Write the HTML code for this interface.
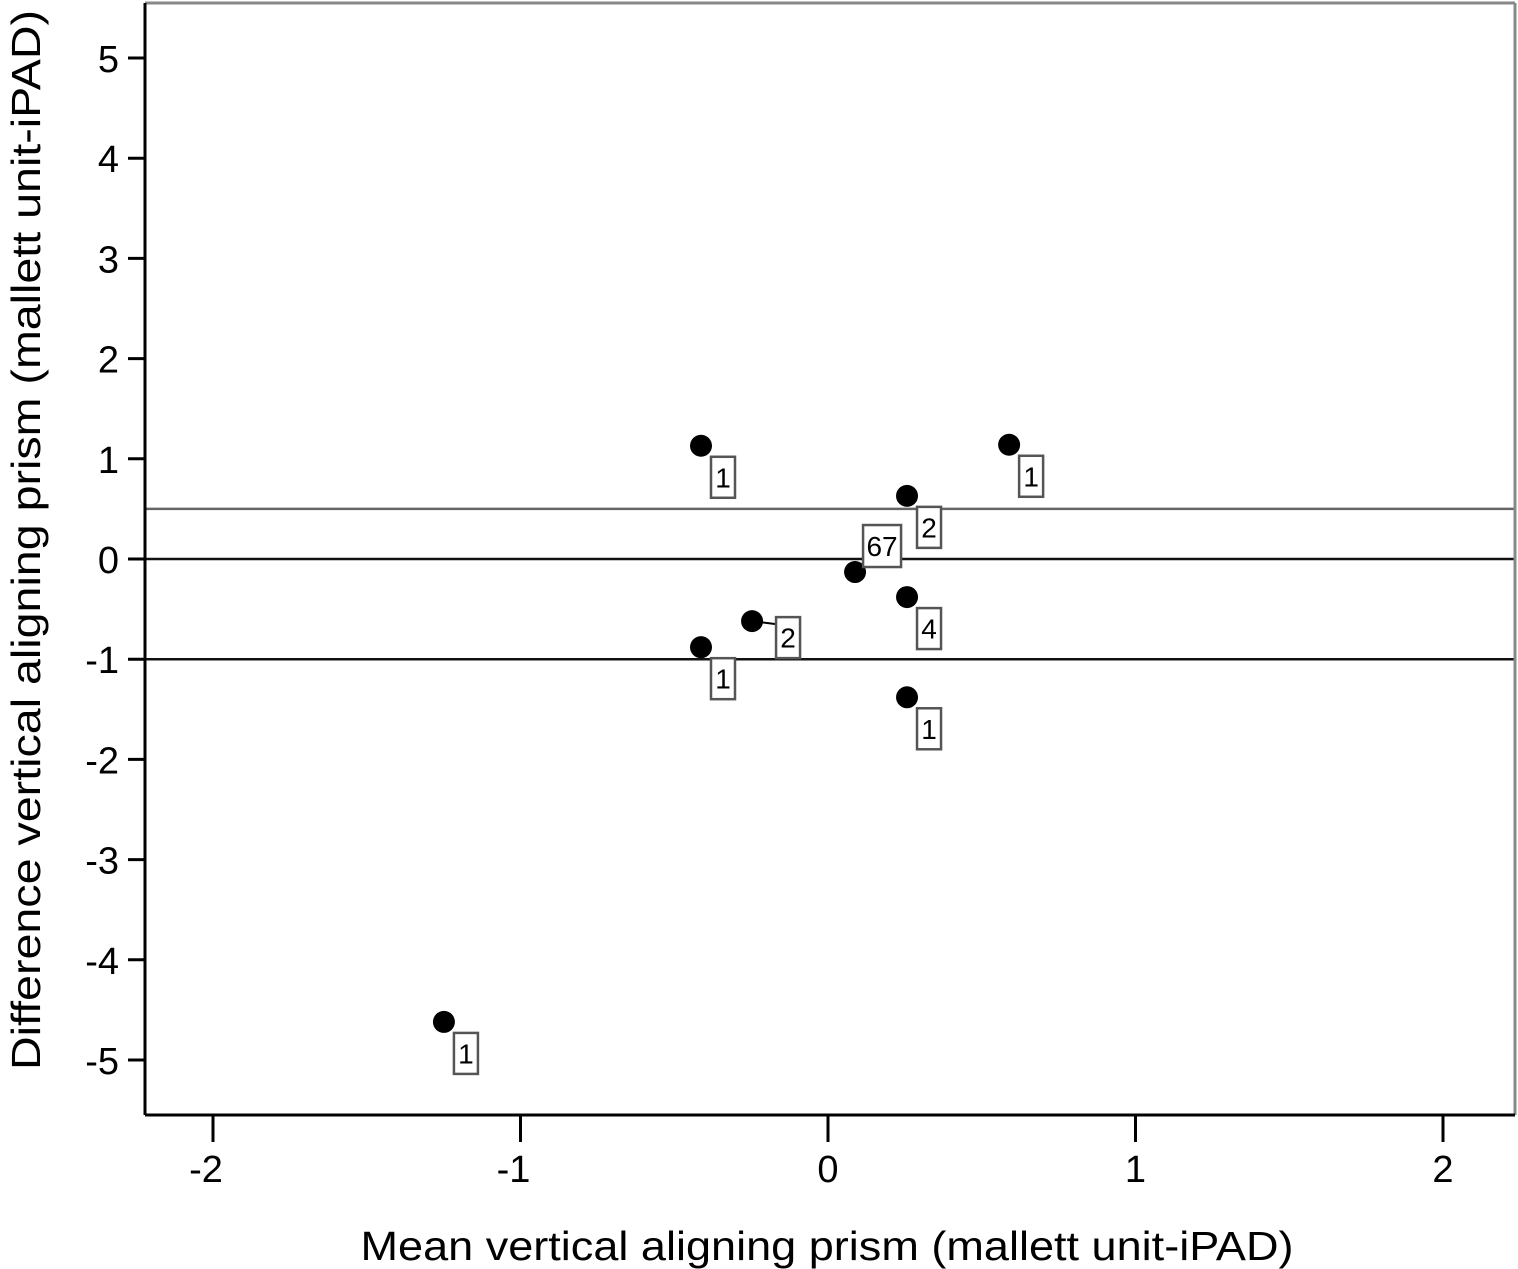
<!DOCTYPE html>
<html><head><meta charset="utf-8"><style>
html,body{margin:0;padding:0;background:#fff;}
svg{display:block;font-family:"Liberation Sans",Arial,sans-serif;}
</style></head><body>
<svg id="chart" width="1518" height="1269" viewBox="0 0 1518 1269">
<rect x="0" y="0" width="1518" height="1269" fill="#fff"/>
<g id="grid"></g>
<g id="axes"></g>
<g id="marks"></g>
<text x="827" y="1260" font-size="41" text-anchor="middle" textLength="933" lengthAdjust="spacingAndGlyphs">Mean vertical aligning prism (mallett unit-iPAD)</text>
<text transform="translate(40,540) rotate(-90)" font-size="41" text-anchor="middle" textLength="1060" lengthAdjust="spacingAndGlyphs">Difference vertical aligning prism (mallett unit-iPAD)</text>
</svg>
<script>
const xTicks=[-2,-1,0,1,2];
const yTicks=[5,4,3,2,1,0,-1,-2,-3,-4,-5];
const meanVals=[-0.413,0.589,0.257,0.088,0.257,-0.247,-0.413,0.257,-1.249];
const diffVals=[1.13,1.14,0.63,-0.13,-0.38,-0.62,-0.88,-1.38,-4.62];
const counts=["1","1","2","67","4","2","1","1","1"];
const refLines=[0.5,0,-1];
const NS="http://www.w3.org/2000/svg";
const L=145,R=1515,T=3,B=1115;
function sx(v){return 828+v*307.5;}
function sy(v){return 559-v*100.2;}
function mk(tag,attrs,parent){const e=document.createElementNS(NS,tag);for(const k in attrs)e.setAttribute(k,attrs[k]);parent.appendChild(e);return e;}
const grid=document.getElementById('grid'),axes=document.getElementById('axes'),marks=document.getElementById('marks');
let e=mk('line',{x1:L,y1:T,x2:R,y2:T,stroke:'#888','stroke-width':3},axes);


e=mk('line',{x1:R,y1:T,x2:R,y2:B,stroke:'#888','stroke-width':3},axes);


e=mk('line',{x1:L,y1:T,x2:L,y2:B,stroke:'#000','stroke-width':3},axes);


e=mk('line',{x1:L,y1:B,x2:R,y2:B,stroke:'#000','stroke-width':3},axes);


refLines.forEach((v,i)=>{
  const l=mk('line',{x1:L,y1:sy(v),x2:R,y2:sy(v),stroke:v===0.5?'#666':'#111','stroke-width':2.5},grid);
  
  
});
yTicks.forEach(v=>{
  const y=sy(v);
  const t=mk('line',{x1:L-17,y1:y,x2:L,y2:y,stroke:'#000','stroke-width':3},axes);
  
  
  const tx=mk('text',{x:L-26,y:y+14,'font-size':38,'text-anchor':'end'},axes);
  tx.textContent=v;
  
  
});
xTicks.forEach(v=>{
  const x=sx(v);
  const t=mk('line',{x1:x,y1:B,x2:x,y2:B+27,stroke:'#000','stroke-width':3},axes);
  
  
  const tx=mk('text',{x:x-(v<0?7:0),y:B+67,'font-size':38,'text-anchor':'middle'},axes);
  tx.textContent=v;
  
  
});
meanVals.forEach((m,i)=>{
  const cx=sx(m),cy=sy(diffVals[i]);
  const lab=counts[i];
  let bx,by,w=lab.length>1?38:24,h=lab.length>1?42:41;
  if(lab==="67"){bx=cx+8;by=cy-47;}
  else if(i===5){bx=cx+24;by=cy-4;
    const ld=mk('line',{x1:cx,y1:cy,x2:bx,y2:cy+3,stroke:'#000','stroke-width':2},marks);
    
    }
  else {bx=cx+10;by=cy+11;}
  const c=mk('circle',{cx:cx,cy:cy,r:11,fill:'#000'},marks);
  
  
  const r=mk('rect',{x:bx,y:by,width:w,height:h,fill:'#fff',stroke:'#555','stroke-width':2.5},marks);
  
  
  const t=mk('text',{x:bx+w/2,y:by+h/2+10,'font-size':28,'text-anchor':'middle'},marks);
  t.textContent=lab;
  
  
});
</script>
</body></html>
